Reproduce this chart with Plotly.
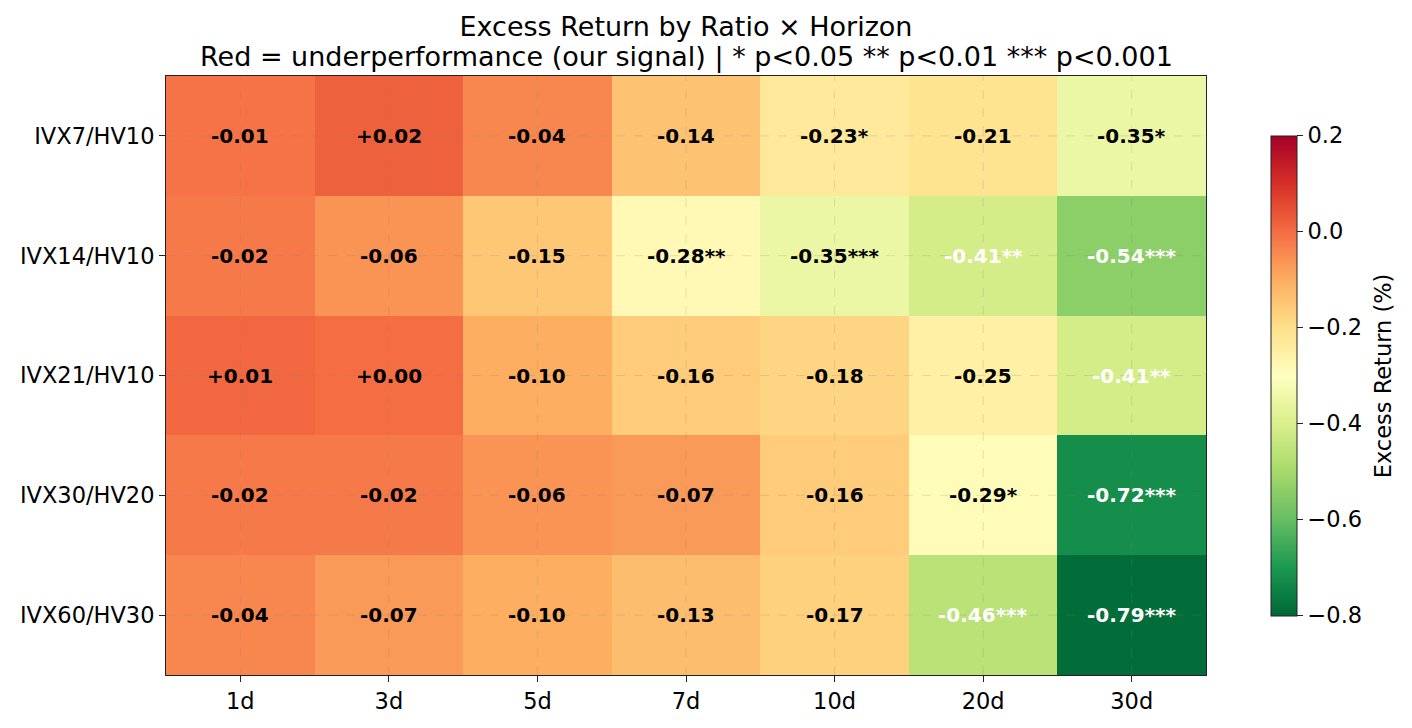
import plotly.graph_objects as go

ratios = ["IVX7/HV10", "IVX14/HV10", "IVX21/HV10", "IVX30/HV20", "IVX60/HV30"]
horizons = ["1d", "3d", "5d", "7d", "10d", "20d", "30d"]
excess = [
    [-0.01, 0.02, -0.04, -0.14, -0.23, -0.21, -0.35],
    [-0.02, -0.06, -0.15, -0.28, -0.35, -0.41, -0.54],
    [0.01, 0.00, -0.10, -0.16, -0.18, -0.25, -0.41],
    [-0.02, -0.02, -0.06, -0.07, -0.16, -0.29, -0.72],
    [-0.04, -0.07, -0.10, -0.13, -0.17, -0.46, -0.79],
]
stars = [
    ["", "", "", "", "*", "", "*"],
    ["", "", "", "**", "***", "**", "***"],
    ["", "", "", "", "", "", "**"],
    ["", "", "", "", "", "*", "***"],
    ["", "", "", "", "", "***", "***"],
]
cbar_ticks = [0.2, 0.0, -0.2, -0.4, -0.6, -0.8]
title_line1 = "Excess Return by Ratio \u00d7 Horizon"
title_line2 = "Red = underperformance (our signal) | * p<0.05 ** p<0.01 *** p<0.001"
cbar_label = "Excess Return (%)"

FONT = "DejaVu Sans"
TICK = 22.5

fig = go.Figure()
fig.add_trace(go.Heatmap(
    z=excess, x=horizons, y=ratios,
    colorscale="RdYlGn_r", zmin=-0.8, zmax=0.2,
    xgap=0, ygap=0, hoverinfo="skip",
    colorbar=dict(
        x=1.0625, xanchor="left", xref="paper", xpad=0, ypad=0,
        y=0.5, yanchor="middle", len=0.801, lenmode="fraction",
        thickness=26, outlinecolor="#222", outlinewidth=1,
        tickvals=cbar_ticks,
        ticktext=[f"{v:.1f}".replace("-", "\u2212") for v in cbar_ticks],
        ticks="outside", ticklen=6, tickcolor="#222",
        tickfont=dict(family=FONT, size=TICK, color="black"),
    ),
))

annotations = []
for i, r in enumerate(ratios):
    for j, h in enumerate(horizons):
        v = excess[i][j]
        txt = f"{v:+.2f}" + stars[i][j]
        annotations.append(dict(
            x=h, y=r, xref="x", yref="y", text=f"<b>{txt}</b>",
            showarrow=False,
            font=dict(family=FONT, size=20, color="white" if v <= -0.4 else "black"),
        ))
annotations.append(dict(
    x=0.5, y=1.0317, xref="paper", yref="paper", xanchor="center", yanchor="middle",
    text=title_line2, showarrow=False,
    font=dict(family=FONT, size=27, color="black"),
))
annotations.append(dict(
    x=1.170, y=0.5, xref="paper", yref="paper", xanchor="center", yanchor="middle",
    text=cbar_label, showarrow=False, textangle=-90,
    font=dict(family=FONT, size=TICK, color="black"),
))

shapes = []
for h in horizons:
    shapes.append(dict(type="line", xref="x", yref="paper", x0=h, x1=h, y0=0, y1=1,
                       line=dict(color="rgba(128,128,128,0.22)", width=1, dash="dash"),
                       layer="above"))
for r in ratios:
    shapes.append(dict(type="line", xref="paper", yref="y", x0=0, x1=1, y0=r, y1=r,
                       line=dict(color="rgba(128,128,128,0.22)", width=1, dash="dash"),
                       layer="above"))

fig.update_layout(
    width=1412, height=728,
    margin=dict(l=166, r=206, t=76, b=53),
    paper_bgcolor="white", plot_bgcolor="white",
    font=dict(family=FONT, color="black"),
    title=dict(
        text=title_line1,
        x=0.5, xref="paper", xanchor="center", y=1 - 27 / 728, yanchor="middle",
        font=dict(family=FONT, size=27, color="black"),
    ),
    annotations=annotations,
    shapes=shapes,
)
fig.update_xaxes(showgrid=False, ticks="outside", ticklen=6, tickcolor="#222",
                 showline=True, linecolor="#222", linewidth=1, mirror=True,
                 tickfont=dict(family=FONT, size=TICK, color="black"))
fig.update_yaxes(showgrid=False, ticks="outside", ticklen=6, tickcolor="#222",
                 showline=True, linecolor="#222", linewidth=1, mirror=True,
                 autorange="reversed",
                 tickfont=dict(family=FONT, size=TICK, color="black"))

fig.write_html("out.html", config={"displayModeBar": False},
               post_script="document.body.style.margin='0';")
